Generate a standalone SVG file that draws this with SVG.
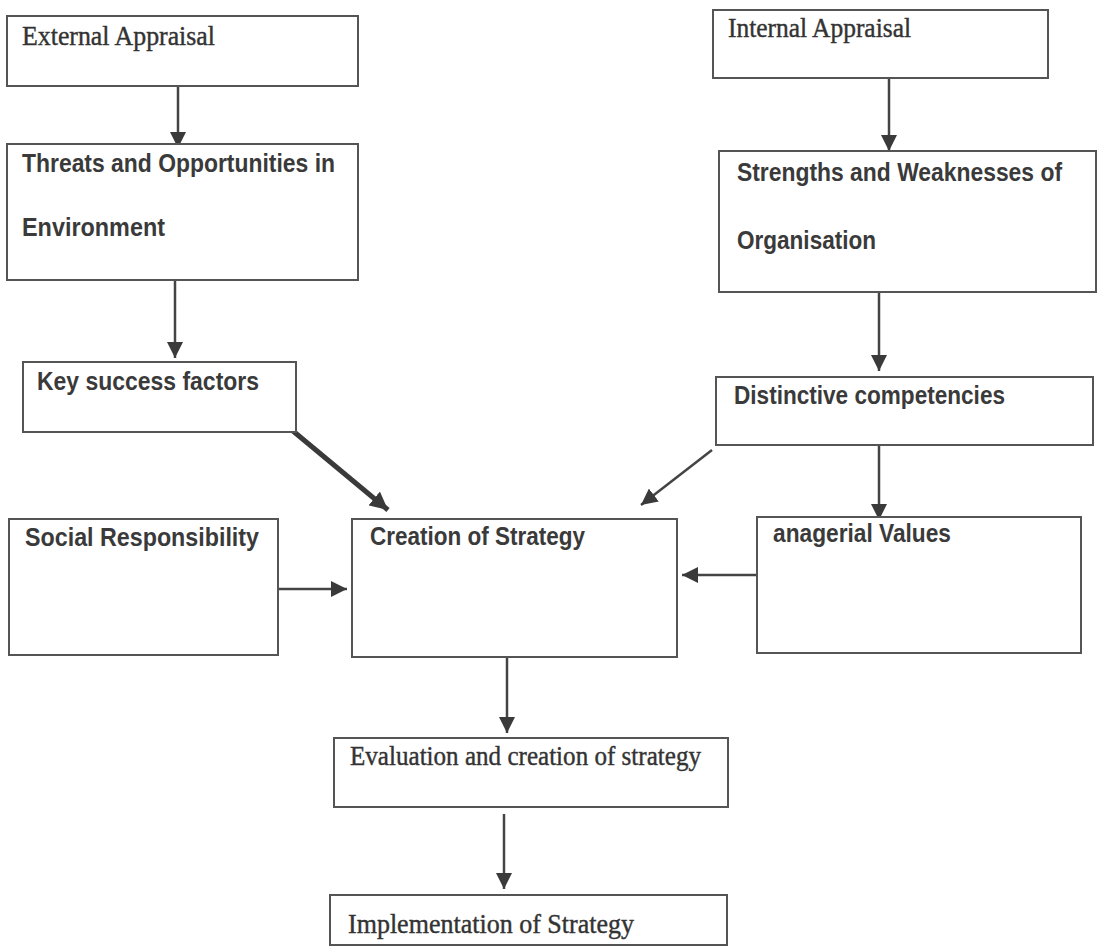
<svg xmlns="http://www.w3.org/2000/svg" width="1099" height="948" viewBox="0 0 1099 948">
<style>
.box{fill:#fff;stroke:#555;stroke-width:2}
.sans{font-family:"Liberation Sans",Arial,sans-serif;font-weight:bold;fill:#3a3a3a;font-size:25px}
.serif{font-family:"Liberation Serif","Times New Roman",serif;fill:#333;stroke:#333;stroke-width:0.4;font-size:27px}
.ln{stroke:#444;stroke-width:2.5;fill:none}
</style>
<defs>
<marker id="ah" viewBox="0 0 10 10" refX="10" refY="5" markerWidth="6.5" markerHeight="6.5" markerUnits="strokeWidth" orient="auto">
<path d="M0,0 L10,5 L0,10 z" fill="#3a3a3a"/>
</marker>
<marker id="ahT" viewBox="0 0 10 10" refX="10" refY="5" markerWidth="3.6" markerHeight="3.6" markerUnits="strokeWidth" orient="auto">
<path d="M0,0 L10,5 L0,10 z" fill="#3a3a3a"/>
</marker>
</defs>
<rect width="1099" height="948" fill="#fff"/>
<g id="connectors">
<line class="ln" x1="178" y1="78" x2="178" y2="148" marker-end="url(#ah)"/>
<line class="ln" x1="175" y1="281" x2="175" y2="358" marker-end="url(#ah)"/>
<line x1="293" y1="431" x2="388" y2="510" stroke="#3a3a3a" stroke-width="5" marker-end="url(#ahT)"/>
<line class="ln" x1="279" y1="589" x2="347" y2="589" marker-end="url(#ah)"/>
<line class="ln" x1="889" y1="79" x2="889" y2="151" marker-end="url(#ah)"/>
<line class="ln" x1="879" y1="293" x2="879" y2="371" marker-end="url(#ah)"/>
<line class="ln" x1="879" y1="446" x2="879" y2="520" marker-end="url(#ah)"/>
<line class="ln" x1="712" y1="450" x2="641" y2="505" marker-end="url(#ah)"/>
<line class="ln" x1="756" y1="575" x2="682" y2="575" marker-end="url(#ah)"/>
<line class="ln" x1="507" y1="658" x2="507" y2="733" marker-end="url(#ah)"/>
<line class="ln" x1="504" y1="814" x2="504" y2="889" marker-end="url(#ah)"/>
</g>
<g id="external">
<rect class="box" x="7" y="16" width="351" height="70"/>
<text class="serif" x="22" y="45" textLength="193" lengthAdjust="spacingAndGlyphs">External  Appraisal</text>
</g>
<g id="threats">
<rect class="box" x="7" y="144" width="351" height="136"/>
<text class="sans" x="22" y="172" textLength="313" lengthAdjust="spacingAndGlyphs">Threats and Opportunities in</text>
<text class="sans" x="22" y="236" textLength="143" lengthAdjust="spacingAndGlyphs">Environment</text>
</g>
<g id="key">
<rect class="box" x="23" y="362" width="273" height="70"/>
<text class="sans" x="37" y="390" textLength="222" lengthAdjust="spacingAndGlyphs">Key success factors</text>
</g>
<g id="social">
<rect class="box" x="9" y="519" width="269" height="136"/>
<text class="sans" x="25" y="546" textLength="234" lengthAdjust="spacingAndGlyphs">Social  Responsibility</text>
</g>
<g id="creation">
<rect class="box" x="352" y="519" width="325" height="138"/>
<text class="sans" x="370" y="545" textLength="215" lengthAdjust="spacingAndGlyphs">Creation of Strategy</text>
</g>
<g id="internal">
<rect class="box" x="713" y="10" width="335" height="68"/>
<text class="serif" x="728" y="37" textLength="183" lengthAdjust="spacingAndGlyphs">Internal Appraisal</text>
</g>
<g id="strengths">
<rect class="box" x="719" y="151" width="377" height="141"/>
<text class="sans" x="737" y="181" textLength="325" lengthAdjust="spacingAndGlyphs">Strengths and Weaknesses of</text>
<text class="sans" x="737" y="249" textLength="139" lengthAdjust="spacingAndGlyphs">Organisation</text>
</g>
<g id="distinctive">
<rect class="box" x="716" y="377" width="377" height="68"/>
<text class="sans" x="734" y="404" textLength="271" lengthAdjust="spacingAndGlyphs">Distinctive competencies</text>
</g>
<g id="managerial">
<rect class="box" x="757" y="517" width="324" height="136"/>
<text class="sans" x="773" y="542" textLength="178" lengthAdjust="spacingAndGlyphs">anagerial Values</text>
</g>
<g id="evaluation">
<rect class="box" x="334" y="738" width="394" height="69"/>
<text class="serif" x="350" y="765" font-size="25" textLength="351" lengthAdjust="spacingAndGlyphs">Evaluation  and creation of strategy</text>
</g>
<g id="implementation">
<rect class="box" x="330" y="895" width="397" height="50"/>
<text class="serif" x="348" y="933" font-size="33" textLength="286" lengthAdjust="spacingAndGlyphs">Implementation of Strategy</text>
</g>
</svg>
